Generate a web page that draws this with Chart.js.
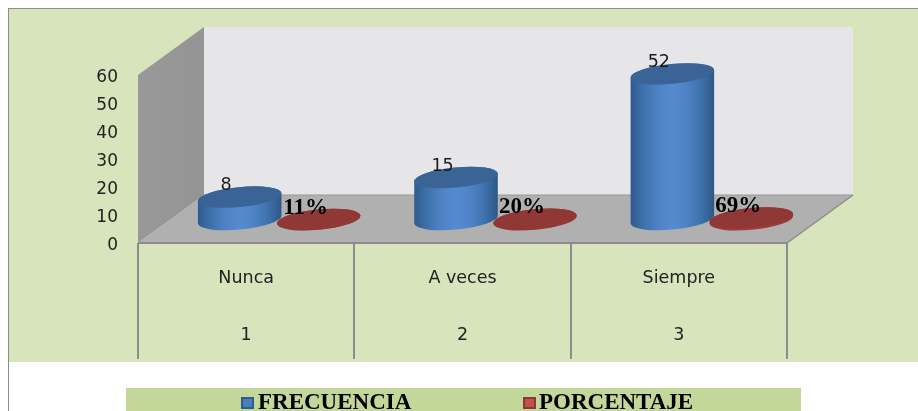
<!DOCTYPE html>
<html>
<head>
<meta charset="utf-8">
<style>html,body{margin:0;padding:0;background:#fff;overflow:hidden}canvas{display:block}</style>
<script src="https://cdn.jsdelivr.net/npm/chart.js@4/dist/chart.umd.js"></script>
</head>
<body>
<canvas id="c" width="918" height="411"></canvas>
<script>
const categories = ['Nunca', 'A veces', 'Siempre'];
const indices = ['1', '2', '3'];
const frecuencia = [8, 15, 52];
const porcentaje = [0.11, 0.20, 0.69];
const yTicks = [0, 10, 20, 30, 40, 50, 60];

const DEPTH_X = 66, DEPTH_Y = -48;
const SANS = '"DejaVu Sans"';
const SERIF = '"Liberation Serif"';

function cylinder(ctx, el, stops, topColor, shift) {
  const cx = el.x + DEPTH_X / 2, rx = el.width / 2, ry = 10, rot = -5.5 * Math.PI / 180;
  const topY = el.y + DEPTH_Y / 2 + shift, baseY = el.base + DEPTH_Y / 2 + shift;
  const g = ctx.createLinearGradient(cx - rx, 0, cx + rx, 0);
  stops.forEach((c, i) => g.addColorStop(i / (stops.length - 1), c));
  ctx.beginPath();
  ctx.ellipse(cx, baseY, rx, ry, rot, Math.PI, 0, true);
  ctx.ellipse(cx, topY, rx, ry, rot, 0, Math.PI, true);
  ctx.closePath();
  ctx.fillStyle = g;
  ctx.fill();
  ctx.beginPath();
  ctx.ellipse(cx, topY, rx, ry, rot, 0, Math.PI * 2);
  ctx.fillStyle = topColor;
  ctx.fill();
}

const scene = {
  id: 'scene',
  beforeDraw(chart) {
    const ctx = chart.ctx;
    ctx.save();
    ctx.fillStyle = '#ffffff';
    ctx.fillRect(0, 0, 918, 411);
    ctx.fillStyle = '#d8e4bc';
    ctx.fillRect(9, 9, 909, 353);
    ctx.fillStyle = '#8c8c8c';
    ctx.fillRect(8, 8, 910, 1);
    ctx.fillRect(8, 8, 1, 403);
    ctx.fillStyle = '#c4d79b';
    ctx.fillRect(126, 388, 675, 23);
    ctx.restore();
  },
  beforeDatasetsDraw(chart) {
    const ctx = chart.ctx, a = chart.chartArea;
    ctx.save();
    ctx.fillStyle = '#e6e6e8';
    ctx.fillRect(a.left + DEPTH_X, a.top + DEPTH_Y, a.right - a.left, a.bottom - a.top);
    const lg = ctx.createLinearGradient(a.left, 0, a.left + DEPTH_X, 0);
    lg.addColorStop(0, '#999999');
    lg.addColorStop(1, '#949494');
    ctx.fillStyle = lg;
    ctx.beginPath();
    ctx.moveTo(a.left, a.top);
    ctx.lineTo(a.left + DEPTH_X, a.top + DEPTH_Y);
    ctx.lineTo(a.left + DEPTH_X, a.bottom + DEPTH_Y);
    ctx.lineTo(a.left, a.bottom);
    ctx.closePath();
    ctx.fill();
    ctx.fillStyle = '#b0b0b0';
    ctx.beginPath();
    ctx.moveTo(a.left, a.bottom);
    ctx.lineTo(a.left + DEPTH_X, a.bottom + DEPTH_Y);
    ctx.lineTo(a.right + DEPTH_X, a.bottom + DEPTH_Y);
    ctx.lineTo(a.right, a.bottom);
    ctx.closePath();
    ctx.fill();
    ctx.strokeStyle = '#999999';
    ctx.lineWidth = 1;
    ctx.beginPath();
    ctx.moveTo(a.left + DEPTH_X, a.bottom + DEPTH_Y);
    ctx.lineTo(a.right + DEPTH_X, a.bottom + DEPTH_Y);
    ctx.stroke();
    ctx.strokeStyle = '#8c8c8c';
    ctx.lineWidth = 1.5;
    ctx.beginPath();
    ctx.moveTo(a.right, a.bottom);
    ctx.lineTo(a.right + DEPTH_X, a.bottom + DEPTH_Y);
    ctx.stroke();
    ctx.lineWidth = 2;
    ctx.beginPath();
    ctx.moveTo(a.left, a.bottom);
    ctx.lineTo(a.right, a.bottom);
    ctx.stroke();
    ctx.restore();
  },
  afterDatasetsDraw(chart) {
    const ctx = chart.ctx;
    const blue = chart.getDatasetMeta(0).data;
    const red = chart.getDatasetMeta(1).data;
    ctx.save();
    blue.forEach(el => cylinder(ctx, el,
      ['#2f5b8e', '#3f72ad', '#4f83c6', '#548bd0', '#4f83c6', '#3f72ad', '#2d5785'], '#3a6496', 0.5));
    red.forEach(el => cylinder(ctx, el,
      ['#9a3936', '#a53c38', '#9a3936'], '#8f3835', 0.8));
    ctx.textAlign = 'center';
    ctx.textBaseline = 'middle';
    ctx.fillStyle = '#1a1a1a';
    ctx.font = '17.5px ' + SANS;
    blue.forEach((el, i) => ctx.fillText(String(frecuencia[i]),
      el.x + DEPTH_X / 2 - 13.5, el.y + DEPTH_Y / 2 - 11));
    ctx.fillStyle = '#000';
    ctx.font = 'bold 23px ' + SERIF;
    red.forEach((el, i) => ctx.fillText(Math.round(porcentaje[i] * 100) + '%',
      el.x + DEPTH_X / 2 - 13, el.y + DEPTH_Y / 2 - 11));
    const xs = [[241, 258], [523, 539]];
    chart.data.datasets.forEach((ds, i) => {
      ctx.fillStyle = ds.legendFill;
      ctx.strokeStyle = ds.legendEdge;
      ctx.lineWidth = 2;
      ctx.fillRect(xs[i][0] + 1, 398, 11, 10);
      ctx.strokeRect(xs[i][0] + 1, 398, 11, 10);
      ctx.fillStyle = '#000';
      ctx.font = 'bold 23px ' + SERIF;
      ctx.textAlign = 'left';
      ctx.textBaseline = 'alphabetic';
      ctx.fillText(ds.label, xs[i][1], 409);
    });
    ctx.restore();
  }
};

new Chart(document.getElementById('c'), {
  type: 'bar',
  data: {
    labels: categories.map((c, i) => [c, indices[i]]),
    datasets: [
      { label: 'FRECUENCIA', data: frecuencia, backgroundColor: 'rgba(0,0,0,0)', legendFill: '#4a7ebb', legendEdge: '#2f5b8e' },
      { label: 'PORCENTAJE', data: porcentaje, backgroundColor: 'rgba(0,0,0,0)', legendFill: '#c0504d', legendEdge: '#8c3836' }
    ]
  },
  options: {
    responsive: false,
    animation: false,
    devicePixelRatio: 1,
    layout: { padding: { left: 0, top: 75, right: 131, bottom: 0 } },
    datasets: { bar: { categoryPercentage: 0.73, barPercentage: 1.063 } },
    plugins: { legend: { display: false }, tooltip: { enabled: false }, title: { display: false } },
    scales: {
      x: {
        afterFit(s) { s.height = 168; },
        border: { display: false },
        grid: { offset: true, drawOnChartArea: false, drawTicks: true, tickLength: 116, color: '#8c8c8c', lineWidth: 2 },
        ticks: { color: '#222', font: { family: SANS, size: 17.5, lineHeight: '57px' }, padding: -109, maxRotation: 0, autoSkip: false }
      },
      y: {
        min: 0, max: 60,
        afterFit(s) { s.width = 138; },
        afterBuildTicks(s) { s.ticks = yTicks.map(v => ({ value: v })); },
        border: { display: false },
        grid: { display: false },
        ticks: { color: '#222', font: { family: SANS, size: 17 }, padding: 12, labelOffset: 3 }
      }
    }
  },
  plugins: [scene]
});
</script>
</body>
</html>
